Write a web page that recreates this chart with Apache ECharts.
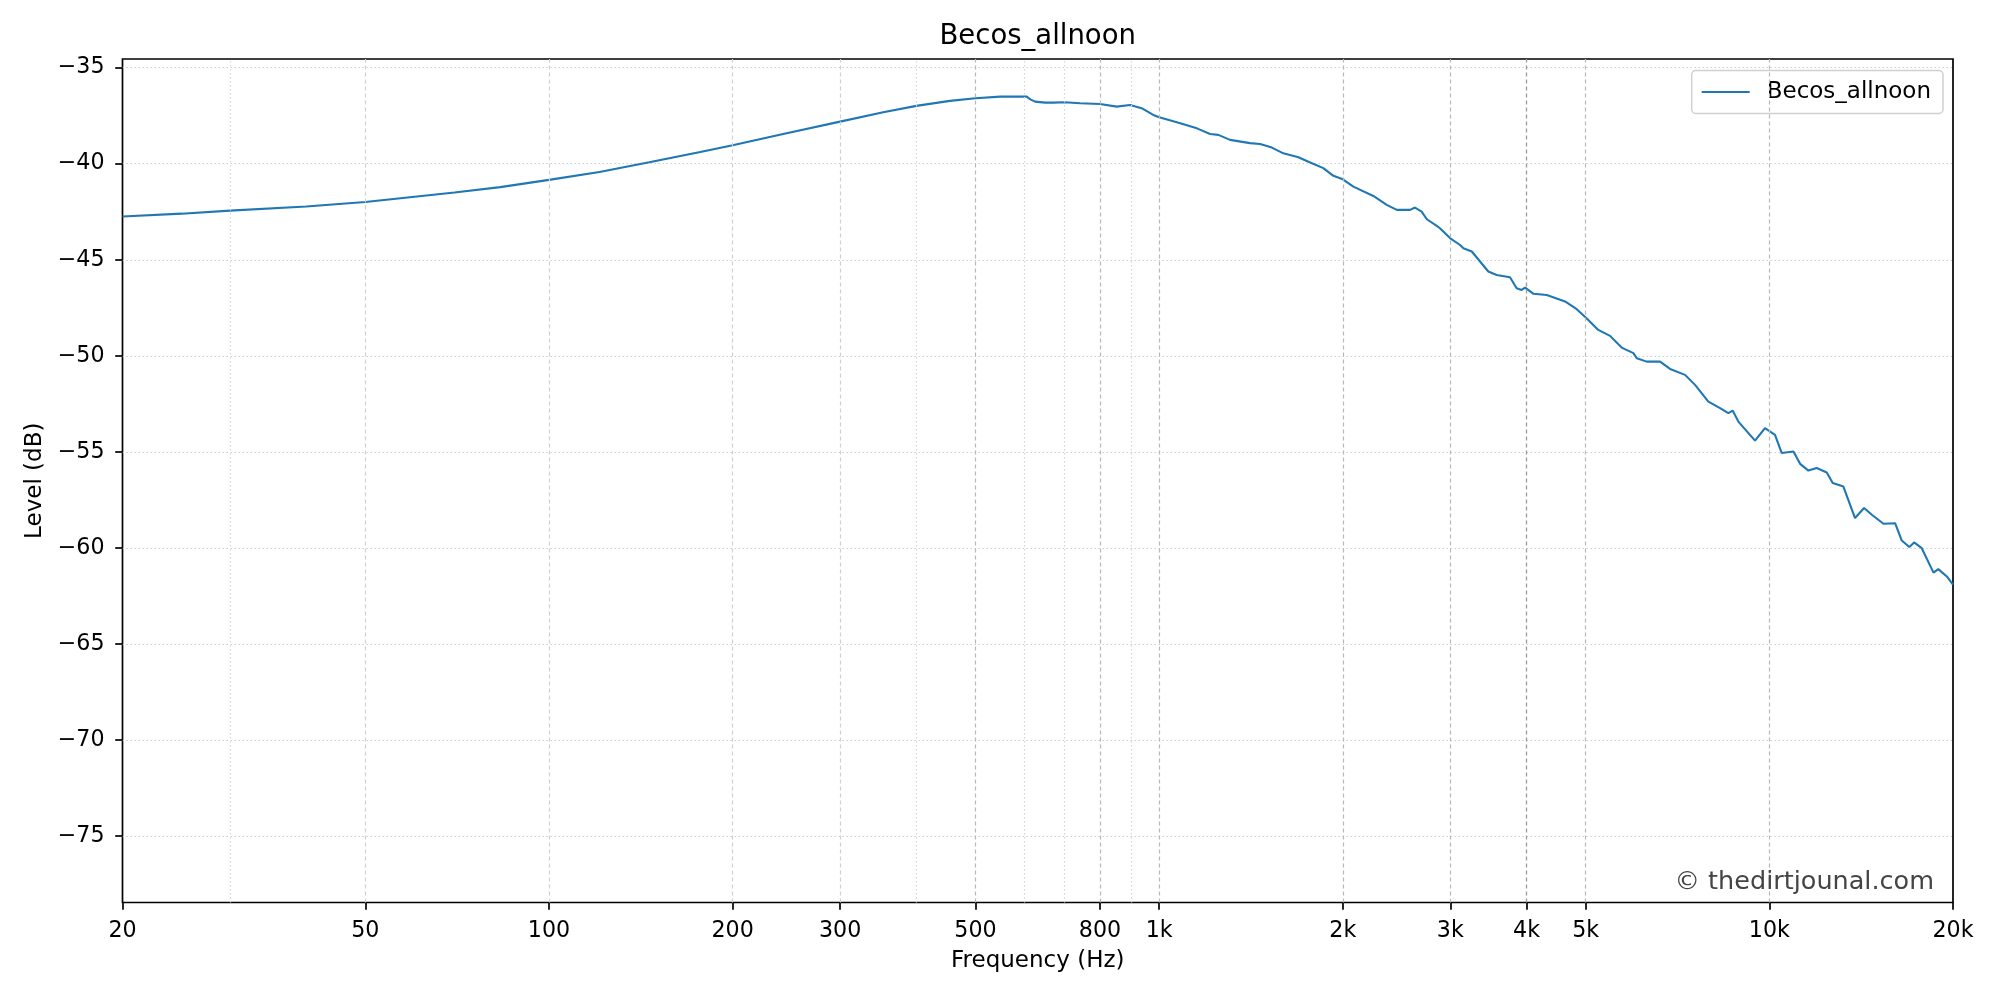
<!DOCTYPE html>
<html>
<head>
<meta charset="utf-8">
<script src="https://cdn.jsdelivr.net/npm/echarts@6/dist/echarts.min.js"></script>
<style>
html,body{margin:0;padding:0;background:#fff;}
#chart{width:2000px;height:1000px;}
</style>
</head>
<body>
<div id="chart"></div>
<script>
// ---- data ----
const seriesName = 'Becos_allnoon';
const freqHz = [20, 25, 30, 40, 50, 70, 83.2, 100, 121, 146, 177, 200, 242, 300, 353, 400, 454, 500, 549, 599, 606, 615,
  626, 650, 671, 700, 742, 800, 852, 896, 936, 978, 1000, 1069, 1153, 1212, 1250, 1307, 1409, 1464, 1530, 1598, 1691,
  1768, 1858, 1930, 2000, 2081, 2244, 2360, 2452, 2578, 2626, 2693, 2746, 2851, 2885, 3000, 3113, 3152, 3254, 3463,
  3574, 3758, 3854, 3928, 3979, 4107, 4318, 4626, 4835, 5017, 5244, 5482, 5728, 5987, 6064, 6296, 6622, 6876, 7276,
  7556, 7944, 8304, 8567, 8710, 8897, 9475, 9838, 10217, 10481, 10953, 11232, 11590, 11958, 12420, 12703, 13225,
  13819, 14299, 14723, 15381, 16076, 16483, 16963, 17270, 17777, 18580, 18920, 19540, 20000];
const levelDb = [-42.75, -42.60, -42.44, -42.23, -41.99, -41.50, -41.22, -40.84, -40.43, -39.92, -39.39, -39.04, -38.45,
  -37.81, -37.32, -36.99, -36.73, -36.59, -36.51, -36.51, -36.50, -36.65,
  -36.77, -36.82, -36.82, -36.80, -36.85, -36.89, -37.03, -36.94, -37.11, -37.46, -37.58, -37.84, -38.16, -38.45,
  -38.50, -38.76, -38.93, -38.97, -39.16, -39.46, -39.66,
  -39.94, -40.23, -40.63, -40.81, -41.19, -41.68, -42.14, -42.40, -42.40, -42.28, -42.49, -42.89, -43.24, -43.36,
  -43.88, -44.23, -44.40, -44.57, -45.61,
  -45.79, -45.91, -46.48, -46.57, -46.45, -46.77, -46.83, -47.17, -47.57, -48.04, -48.65, -48.96, -49.57, -49.86,
  -50.12, -50.30, -50.30, -50.68, -50.99,
  -51.51, -52.38, -52.72, -52.98, -52.85, -53.42, -54.41, -53.76, -54.11, -55.06, -54.98, -55.62, -55.97, -55.84,
  -56.07, -56.62, -56.80,
  -58.44, -57.92, -58.27, -58.74, -58.71, -59.61, -59.95, -59.71, -60.01, -61.28, -61.10, -61.48, -61.91];
const xTickValues = [20, 50, 100, 200, 300, 500, 800, 1000, 2000, 3000, 4000, 5000, 10000, 20000];
const xMajorGrid = [50, 100, 200, 300, 500, 800, 1000, 2000, 3000, 5000, 10000];
const xMinorGrid = [30, 400, 600, 700, 900];
const xDarkGrid = [4000];
const yTickValues = [-75, -70, -65, -60, -55, -50, -45, -40, -35];
const xRange = [20, 20000];
const yRange = [-78.45, -34.55];

const FONT = 'DejaVu Sans';
const TICK_FS = 22.2;
const LABEL_FS = 23;
const chart = echarts.init(document.getElementById('chart'), null, {renderer: 'canvas', width: 2000, height: 1000});

function fmtHz(v) {
  const r = Math.round(v);
  if (r >= 1000) return (r / 1000) + 'k';
  return String(r);
}

const gridLines = []
  .concat(xMajorGrid.map(v => ({xAxis: v, lineStyle: {color: v >= 500 ? '#b8b8b8' : '#d0d0d0', type: [4, 3], width: 1.2}})))
  .concat(xMinorGrid.map(v => ({xAxis: v, lineStyle: {color: '#d6d6d6', type: [1.5, 2.5], width: 1.2}})))
  .concat(xDarkGrid.map(v => ({xAxis: v, lineStyle: {color: '#9a9a9a', type: [4, 3], width: 1.3}})));

const option = {
  animation: false,
  backgroundColor: '#fff',
  textStyle: {fontFamily: FONT},
  grid: {left: 122.5, right: 47, top: 59, bottom: 97.5, show: true, borderColor: '#000', borderWidth: 1.7, backgroundColor: 'transparent', containLabel: false},
  legend: {
    data: [seriesName], right: 57, top: 70.5, icon: 'rect', itemWidth: 48, itemHeight: 2.2,
    padding: [10, 12, 10, 10], backgroundColor: 'rgba(255,255,255,0.8)', borderColor: '#d0d0d0', borderWidth: 1.5, borderRadius: 4,
    textStyle: {fontFamily: FONT, fontSize: LABEL_FS, color: '#000', padding: [0, 0, 0, 12]}
  },
  xAxis: {
    type: 'log', logBase: 10, min: xRange[0], max: xRange[1],
    name: 'Frequency (Hz)', nameLocation: 'middle', nameGap: 47.5,
    nameTextStyle: {fontFamily: FONT, fontSize: LABEL_FS, color: '#000'},
    axisLine: {show: false},
    axisTick: {show: true, inside: false, length: 7.3, lineStyle: {color: '#000', width: 1.7}, customValues: xTickValues},
    axisLabel: {show: true, margin: 17.5, fontFamily: FONT, fontSize: TICK_FS, color: '#000', customValues: xTickValues, formatter: fmtHz},
    splitLine: {show: false},
    minorTick: {show: false}, minorSplitLine: {show: false}
  },
  yAxis: {
    type: 'value', min: yRange[0], max: yRange[1], splitNumber: 9,
    name: 'Level (dB)', nameLocation: 'middle', nameGap: 69.5, nameRotate: 90,
    nameTextStyle: {fontFamily: FONT, fontSize: LABEL_FS, color: '#000'},
    axisLine: {show: false},
    axisTick: {show: true, inside: false, length: 7.3, lineStyle: {color: '#000', width: 1.7}, customValues: yTickValues},
    axisLabel: {show: true, margin: 18, fontFamily: FONT, fontSize: TICK_FS, color: '#000', customValues: yTickValues,
      formatter: v => String(Math.round(v)).replace('-', '\u2212')},
    splitLine: {show: true, lineStyle: {color: '#cfcfcf', type: [1.5, 2.5], width: 1.2}}
  },
  series: [
    {
      name: '_grid', type: 'line', data: [], z: 1, silent: true, symbol: 'none',
      markLine: {silent: true, symbol: ['none', 'none'], label: {show: false}, animation: false, data: gridLines}
    },
    {
      name: seriesName, type: 'line', z: 3, symbol: 'none', showSymbol: false, smooth: false,
      lineStyle: {color: '#1f77b4', width: 2.1}, itemStyle: {color: '#1f77b4'},
      data: freqHz.map((f, i) => [f, levelDb[i]])
    }
  ],
  graphic: [
    {type: 'text', x: 1037.7, y: 37, z: 10, silent: true,
      style: {text: 'Becos_allnoon', font: '27.5px "DejaVu Sans"', fill: '#000', align: 'center', verticalAlign: 'middle', textAlign: 'center', textVerticalAlign: 'middle'}},
    {type: 'text', x: 1934, y: 882.5, z: 10, silent: true,
      style: {text: '\u00a9 thedirtjounal.com', font: '25.5px "DejaVu Sans"', fill: '#444', align: 'right', verticalAlign: 'middle', textAlign: 'right', textVerticalAlign: 'middle'}}
  ]
};
chart.setOption(option);
</script>
</body>
</html>
